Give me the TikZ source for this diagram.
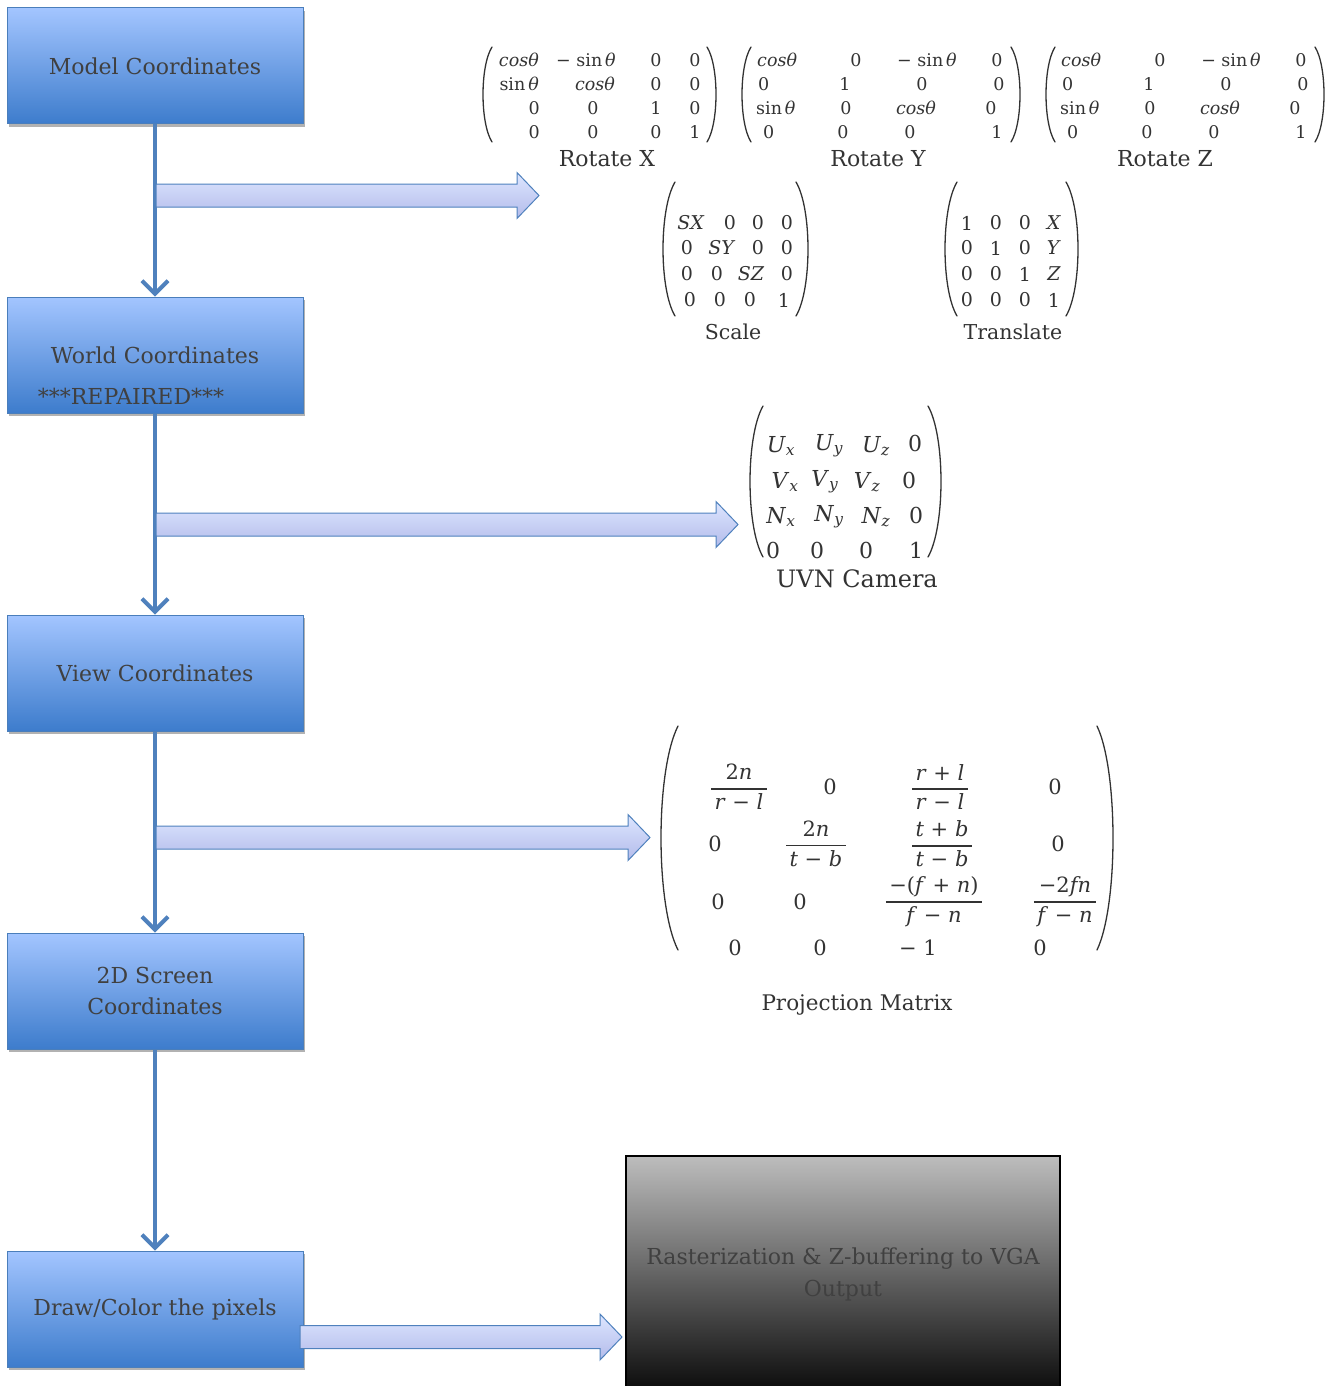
\RequirePackage{fix-cm}
\documentclass[tikz,border=0pt]{standalone}
\usepackage{amsmath}
\usepackage{fontspec}
\setmainfont{DejaVu Serif}
\usetikzlibrary{arrows.meta,shadows}
\definecolor{boxtop}{HTML}{A3C5FF}
\definecolor{boxbot}{HTML}{3D7CCC}
\definecolor{boxedge}{HTML}{4A7EBB}
\definecolor{linecol}{HTML}{4F81BD}
\definecolor{fattop}{HTML}{DDE6FF}
\definecolor{fatbot}{HTML}{B3BBEA}
\definecolor{txt}{HTML}{404040}
\definecolor{labtxt}{HTML}{333333}
\definecolor{graytop}{HTML}{BDBDBD}
\definecolor{graymid}{HTML}{8C8C8C}
\definecolor{graybot}{HTML}{0C0C0C}
\newcommand{\parenarc}[4]{% #1 bulge x, #2 end x, #3 top y, #4 bottom y
  \draw[parenline] (#2,#3) .. controls ({#2+1.333*(#1-#2)},{#3+0.2*(#4-#3)}) and ({#2+1.333*(#1-#2)},{#4-0.2*(#4-#3)}) .. (#2,#4);}
\newcommand{\fatarrow}[3]{% #1 start x, #2 tip x, #3 centre y
  \draw[fat] (#1,{#3-11.5}) -- ({#2-22},{#3-11.5}) -- ({#2-22},{#3-23}) -- (#2,#3)
    -- ({#2-22},{#3+23}) -- ({#2-22},{#3+11.5}) -- (#1,{#3+11.5}) -- cycle;}
\newcommand{\mfrac}[2]{$\genfrac{}{}{1.4pt}{0}{\text{\,#1\,}}{\text{\,#2\,}}$}
\newcommand{\vsub}[2]{\textit{#1}\textsubscript{\textit{#2}}}
\newcommand{\rotyz}[2]{% #1 prefix, #2 x offset
  \begin{scope}[xshift=#2pt]
  \node[ent,anchor=west] (#1-11) at (757,60) {\textit{cosθ}};
  \node[ent] (#1-12) at (856,60) {0};
  \node[ent] (#1-13) at (927,60) {− sin\,\textit{θ}};
  \node[ent] (#1-14) at (997,60) {0};
  \node[ent,anchor=west] (#1-21) at (758,84) {0};
  \node[ent] (#1-22) at (845,84) {1};
  \node[ent] (#1-23) at (922,84) {0};
  \node[ent] (#1-24) at (999,84) {0};
  \node[ent,anchor=west] (#1-31) at (756,108) {sin\,\textit{θ}};
  \node[ent] (#1-32) at (846,108) {0};
  \node[ent] (#1-33) at (916,108) {\textit{cosθ}};
  \node[ent] (#1-34) at (991,108) {0};
  \node[ent,anchor=west] (#1-41) at (763,132) {0};
  \node[ent] (#1-42) at (843,132) {0};
  \node[ent] (#1-43) at (910,132) {0};
  \node[ent] (#1-44) at (997,132) {1};
  \end{scope}}
\begin{document}
\begin{tikzpicture}[x=1pt,y=-1pt,
  stage/.style={draw=boxedge, line width=1pt, top color=boxtop, bottom color=boxbot,
    minimum width=296pt, minimum height=116pt, inner sep=0pt, text=txt,
    font=\fontsize{22}{31}\selectfont, align=center,
    drop shadow={shadow xshift=2pt, shadow yshift=-3pt, opacity=0.3, fill=black}},
  vline/.style={draw=linecol, line width=4pt, -{Straight Barb[length=13pt,width=26pt]}},
  fat/.style={draw=linecol, line width=1pt, top color=fattop, bottom color=fatbot, line join=miter},
  parenline/.style={draw=labtxt, line width=1.3pt, line cap=round},
  ent/.style={inner sep=0pt, text=labtxt, font=\fontsize{17.5}{18}\selectfont},
  entb/.style={inner sep=0pt, text=labtxt, font=\fontsize{19}{19}\selectfont},
  entu/.style={inner sep=0pt, text=labtxt, font=\fontsize{22}{22}\selectfont},
  entp/.style={inner sep=0pt, text=labtxt, font=\fontsize{21}{21}\selectfont},
  lab/.style={inner sep=0pt, text=labtxt, font=\fontsize{22}{26}\selectfont},
  labs/.style={inner sep=0pt, text=labtxt, font=\fontsize{20.5}{24}\selectfont}]
\clip (0,0) rectangle (1341,1386);

% ---- stage boxes
\node[stage] (model) at (155,66) {Model Coordinates};
\node[stage] (world) at (155,355) {World Coordinates};
\node[inner sep=0pt, text=txt, font=\fontsize{22}{26}\selectfont] (repaired) at (131,396) {***REPAIRED***};
\node[stage] (view) at (155,673) {View Coordinates};
\node[stage] (screen) at (155,991) {2D Screen\\Coordinates};
\node[stage] (pixels) at (155,1309) {Draw/Color the pixels};

% ---- output box
\node[draw=black, line width=1.5pt, top color=graytop, middle color=graymid, bottom color=graybot,
  minimum width=434pt, minimum height=234pt, inner sep=0pt] (raster) at (843,1273) {};
\node[inner sep=0pt, text=txt, font=\fontsize{22}{32}\selectfont, align=center] (rastertxt) at (843,1274)
  {Rasterization \& Z-buffering to VGA\\Output};

% ---- vertical connectors
\draw[vline] (model.south) -- (world.north);
\draw[vline] (world.south) -- (view.north);
\draw[vline] (view.south) -- (screen.north);
\draw[vline] (screen.south) -- (pixels.north);

% ---- block arrows
\fatarrow{156}{539}{195.5}
\fatarrow{156}{738}{524.5}
\fatarrow{156}{650}{837.5}
\fatarrow{300}{622}{1337}

% ---- Rotate X
\parenarc{483}{492}{47}{142}
\parenarc{716}{707}{47}{142}
\node[ent,anchor=east] (rx-11) at (539,60) {\textit{cosθ}};
\node[ent] (rx-12) at (586,60) {− sin\,\textit{θ}};
\node[ent] (rx-13) at (656,60) {0};
\node[ent] (rx-14) at (695,60) {0};
\node[ent,anchor=east] (rx-21) at (539,84) {sin\,\textit{θ}};
\node[ent] (rx-22) at (595,84) {\textit{cosθ}};
\node[ent] (rx-23) at (656,84) {0};
\node[ent] (rx-24) at (695,84) {0};
\node[ent,anchor=east] (rx-31) at (540,108) {0};
\node[ent] (rx-32) at (593,108) {0};
\node[ent] (rx-33) at (656,108) {1};
\node[ent] (rx-34) at (695,108) {0};
\node[ent,anchor=east] (rx-41) at (540,132) {0};
\node[ent] (rx-42) at (593,132) {0};
\node[ent] (rx-43) at (656,132) {0};
\node[ent] (rx-44) at (695,132) {1};
\node[lab] (lrx) at (607,159) {Rotate X};

% ---- Rotate Y and Z
\parenarc{742}{751}{47}{142}
\parenarc{1020}{1011}{47}{142}
\rotyz{ry}{0}
\node[lab] (lry) at (878,159) {Rotate Y};
\parenarc{1046}{1055}{47}{142}
\parenarc{1324}{1315}{47}{142}
\rotyz{rz}{304}
\node[lab] (lrz) at (1165,159) {Rotate Z};

% ---- Scale
\parenarc{663}{675}{182}{316}
\parenarc{808}{796}{182}{316}
\node[entb] (sc-11) at (691,223) {\textit{SX}};
\node[entb] (sc-12) at (730,223) {0};
\node[entb] (sc-13) at (758,223) {0};
\node[entb] (sc-14) at (787,223) {0};
\node[entb] (sc-21) at (687,248) {0};
\node[entb] (sc-22) at (722,248) {\textit{SY}};
\node[entb] (sc-23) at (758,248) {0};
\node[entb] (sc-24) at (787,248) {0};
\node[entb] (sc-31) at (687,274) {0};
\node[entb] (sc-32) at (717,274) {0};
\node[entb] (sc-33) at (751,274) {\textit{SZ}};
\node[entb] (sc-34) at (787,274) {0};
\node[entb] (sc-41) at (690,300) {0};
\node[entb] (sc-42) at (720,300) {0};
\node[entb] (sc-43) at (750,300) {0};
\node[entb] (sc-44) at (784,300) {1};
\node[labs] (lsc) at (733,332) {Scale};

% ---- Translate
\parenarc{945}{957}{182}{316}
\parenarc{1078}{1066}{182}{316}
\node[entb] (tr-11) at (967,223) {1};
\node[entb] (tr-12) at (996,223) {0};
\node[entb] (tr-13) at (1025,223) {0};
\node[entb] (tr-14) at (1054,223) {\textit{X}};
\node[entb] (tr-21) at (967,248) {0};
\node[entb] (tr-22) at (996,248) {1};
\node[entb] (tr-23) at (1025,248) {0};
\node[entb] (tr-24) at (1054,248) {\textit{Y}};
\node[entb] (tr-31) at (967,274) {0};
\node[entb] (tr-32) at (996,274) {0};
\node[entb] (tr-33) at (1025,274) {1};
\node[entb] (tr-34) at (1054,274) {\textit{Z}};
\node[entb] (tr-41) at (967,300) {0};
\node[entb] (tr-42) at (996,300) {0};
\node[entb] (tr-43) at (1025,300) {0};
\node[entb] (tr-44) at (1054,300) {1};
\node[labs] (ltr) at (1013,332) {Translate};

% ---- UVN camera
\parenarc{750}{763}{406}{557}
\parenarc{941}{928}{406}{557}
\node[entu] (uvn-11) at (781,446) {\vsub{U}{x}};
\node[entu] (uvn-12) at (829,446) {\vsub{U}{y}};
\node[entu] (uvn-13) at (876,446) {\vsub{U}{z}};
\node[entu] (uvn-14) at (915,443) {0};
\node[entu] (uvn-21) at (785,482) {\vsub{V}{x}};
\node[entu] (uvn-22) at (825,482) {\vsub{V}{y}};
\node[entu] (uvn-23) at (867,482) {\vsub{V}{z}};
\node[entu] (uvn-24) at (909,480) {0};
\node[entu] (uvn-31) at (781,517) {\vsub{N}{x}};
\node[entu] (uvn-32) at (829,517) {\vsub{N}{y}};
\node[entu] (uvn-33) at (876,517) {\vsub{N}{z}};
\node[entu] (uvn-34) at (916,515) {0};
\node[entu] (uvn-41) at (773,550) {0};
\node[entu] (uvn-42) at (817,550) {0};
\node[entu] (uvn-43) at (866,550) {0};
\node[entu] (uvn-44) at (916,550) {1};
\node[inner sep=0pt, text=labtxt, font=\fontsize{24}{28}\selectfont] (luvn) at (857,579) {UVN Camera};

% ---- Projection
\parenarc{661}{678}{726}{950}
\parenarc{1113}{1097}{726}{950}
\node[entp] (p-11) at (739,787) {\mfrac{2\textit{n}}{\textit{r} − \textit{l}}};
\node[entp] (p-12) at (830,787) {0};
\node[entp] (p-13) at (940,787) {\mfrac{\textit{r} + \textit{l}}{\textit{r} − \textit{l}}};
\node[entp] (p-14) at (1055,787) {0};
\node[entp] (p-21) at (715,844) {0};
\node[entp] (p-22) at (816,844) {\mfrac{2\textit{n}}{\textit{t} − \textit{b}}};
\node[entp] (p-23) at (942,844) {\mfrac{\textit{t} + \textit{b}}{\textit{t} − \textit{b}}};
\node[entp] (p-24) at (1058,844) {0};
\node[entp] (p-31) at (718,902) {0};
\node[entp] (p-32) at (800,902) {0};
\node[entp] (p-33) at (934,902) {\mfrac{−(\textit{f} + \textit{n})}{\textit{f} − \textit{n}}};
\node[entp] (p-34) at (1065,902) {\mfrac{−2\textit{fn}}{\textit{f} − \textit{n}}};
\node[entp] (p-41) at (735,948) {0};
\node[entp] (p-42) at (820,948) {0};
\node[entp] (p-43) at (918,948) {− 1};
\node[entp] (p-44) at (1040,948) {0};
\node[inner sep=0pt, text=labtxt, font=\fontsize{21.5}{24}\selectfont] (lproj) at (857,1005) {Projection Matrix};
\end{tikzpicture}
\end{document}
